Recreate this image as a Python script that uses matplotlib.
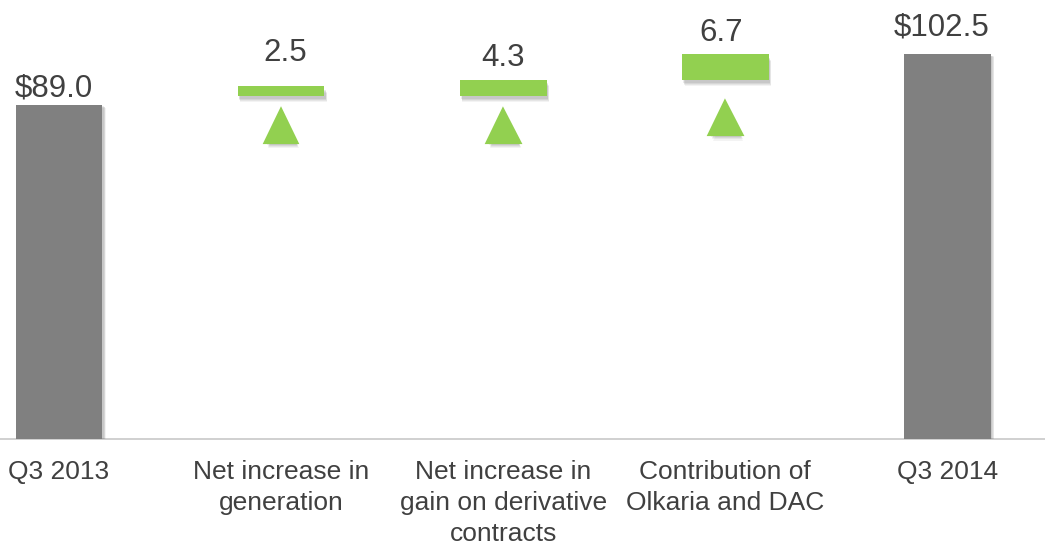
import matplotlib
matplotlib.use("Agg")
import matplotlib.pyplot as plt
import matplotlib.patheffects as pe

# Waterfall: Q3 2013 -> Q3 2014
categories = ["Q3 2013", "Net increase in\ngeneration",
              "Net increase in\ngain on derivative\ncontracts",
              "Contribution of\nOlkaria and DAC", "Q3 2014"]
totals = [89.0, 102.5]                 # start / end columns
step_values = [2.5, 4.3, 6.7]          # increments
step_bases = [91.5, 91.5, 95.8]        # where each increment bar sits
arrow_levels = [83.3, 83.3, 85.4]      # up-arrow marker heights
total_labels = ["$89.0", "$102.5"]
step_labels = ["2.5", "4.3", "6.7"]

GRAY = "#808080"
GREEN = "#92D050"
TEXT = "#404040"

plt.rcParams["font.family"] = ["Liberation Sans", "DejaVu Sans"]

fig = plt.figure(figsize=(10.45, 5.45), dpi=100)
ax = fig.add_axes([0, 106 / 545, 1, 439 / 545])

def shadow(dx=2, dy=-4):
    layers = []
    for k, a in [(1.2, 0.07), (1.0, 0.09), (0.8, 0.11), (0.6, 0.12)]:
        layers.append(pe.SimplePatchShadow(offset=(dx * k, dy * k),
                                           shadow_rgbFace="#606060", alpha=a))
    return layers + [pe.Normal()]

width = 0.39
total_x = [0, 4]
step_x = [1, 2, 3]

bars_t = ax.bar(total_x, totals, width=width, color=GRAY, zorder=3)
for b in bars_t:
    b.set_path_effects(shadow(2, -1.5))

bars_s = ax.bar(step_x, step_values, bottom=step_bases, width=width,
                color=GREEN, zorder=3)
for b in bars_s:
    b.set_path_effects(shadow(1.5, -4))

for x, y in zip(step_x, arrow_levels):
    ax.plot([x], [y], marker="^", markersize=22, color=GREEN,
            markeredgecolor=GREEN, markeredgewidth=3, zorder=3,
            path_effects=shadow(1.5, -4))

# value labels (offsets in points: dx, baseline height above bar top)
total_offsets = [(-4, 6.5), (-4.5, 13.5)]
for x, v, lab, (dx, dy) in zip(total_x, totals, total_labels, total_offsets):
    ax.annotate(lab, (x, v), xytext=(dx, dy), textcoords="offset points",
                ha="center", va="baseline", fontsize=22.5, color=TEXT)
step_offsets = [(3, 18), (0, 9.5), (-3, 10)]
for x, b, v, lab, (dx, dy) in zip(step_x, step_bases, step_values, step_labels, step_offsets):
    ax.annotate(lab, (x, b + v), xytext=(dx, dy), textcoords="offset points",
                ha="center", va="baseline", fontsize=22.5, color=TEXT)

ax.set_xlim(-59 / 222.1, 4 + 97.5 / 222.1)
ax.set_ylim(0, 117)
ax.set_xticks(range(len(categories)))
ax.set_xticklabels(categories, fontsize=19, color=TEXT, linespacing=1.38)
ax.tick_params(axis="x", length=0, pad=15)
ax.set_yticks([])
for s in ["top", "left", "right"]:
    ax.spines[s].set_visible(False)
ax.spines["bottom"].set_color("#C8C8C8")
ax.spines["bottom"].set_linewidth(1.2)
ax.patch.set_alpha(0)

fig.savefig("out.png", dpi=100)
